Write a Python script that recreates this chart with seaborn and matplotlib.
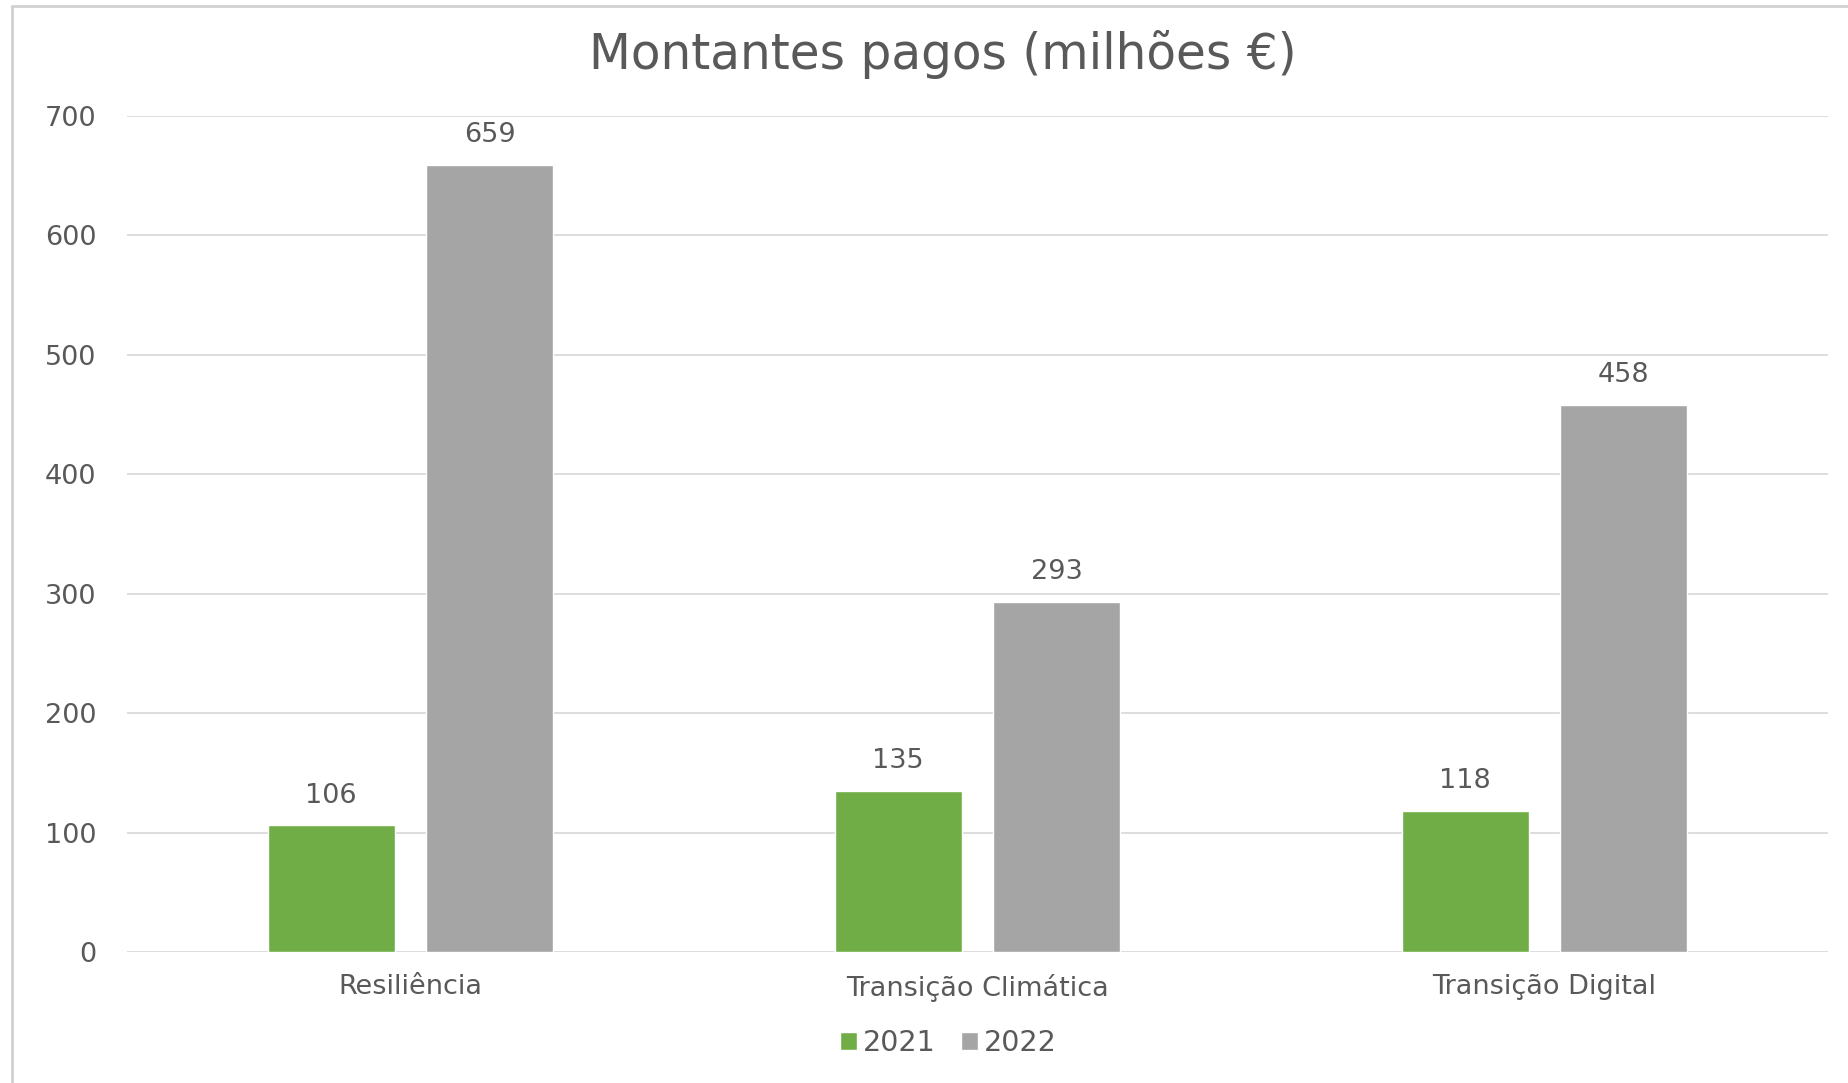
import matplotlib
matplotlib.use("Agg")
import matplotlib.pyplot as plt
import seaborn as sns
import pandas as pd
from matplotlib.lines import Line2D

categories = ["Resiliência", "Transição Climática", "Transição Digital"]
years = ["2021", "2022"]
values_2021 = [106, 135, 118]
values_2022 = [659, 293, 458]
yticks = [0, 100, 200, 300, 400, 500, 600, 700]

df = pd.DataFrame({
    "categoria": categories * 2,
    "ano": [years[0]] * 3 + [years[1]] * 3,
    "valor": values_2021 + values_2022,
})

sns.set_style("white")
plt.rcParams["font.family"] = ["DejaVu Sans"]
TXT = "#595959"

fig = plt.figure(figsize=(18.49, 10.83), dpi=100)
ax = fig.add_axes([0.0687, 0.1210, 0.9199, 0.7719])

sns.barplot(data=df, x="categoria", y="valor", hue="ano",
            palette={"2021": "#70AD47", "2022": "#A5A5A5"},
            width=0.56, gap=0.2, ax=ax, saturation=1, legend=True)

for cont in ax.containers:
    ax.bar_label(cont, fmt="%d", padding=12, fontsize=19.5, color=TXT)

ax.set_ylim(0, 700)
ax.set_xlim(-0.5, 2.5)
ax.set_yticks(yticks)
ax.set_yticklabels([str(v) for v in yticks])
ax.yaxis.grid(True, color="#DDDDDD", linewidth=1.4)
ax.set_axisbelow(True)
for s in ax.spines.values():
    s.set_visible(False)
ax.tick_params(axis="y", length=0, pad=22, labelsize=19.5, labelcolor=TXT)
ax.tick_params(axis="x", length=0, pad=16, labelsize=19.5, labelcolor=TXT)
ax.set_xlabel("")
ax.set_ylabel("")

handles, labels = ax.get_legend_handles_labels()
ax.get_legend().remove()
fig.legend(handles, labels, loc="center", bbox_to_anchor=(0.513, 0.037),
           ncol=2, frameon=False, fontsize=20.5, labelcolor=TXT,
           handlelength=0.6, handleheight=0.6, handletextpad=0.2,
           columnspacing=0.9)

fig.text(0.510, 0.950, "Montantes pagos (milhões €)", ha="center", va="center",
         fontsize=35, color=TXT)

# outer chart-area border (left and top edges visible)
fig.add_artist(Line2D([0.0065, 0.0065], [0.0, 0.9945], color="#D0D0D0", linewidth=2,
                      transform=fig.transFigure))
fig.add_artist(Line2D([0.0065, 1.0], [0.9945, 0.9945], color="#D0D0D0", linewidth=2,
                      transform=fig.transFigure))

fig.savefig("out.png", dpi=100, facecolor="white")
